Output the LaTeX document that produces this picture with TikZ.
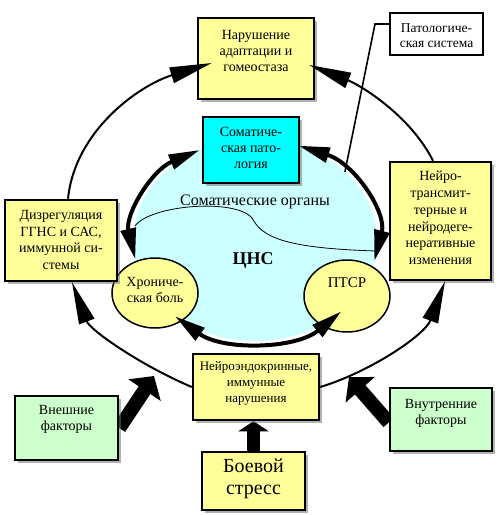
\documentclass[tikz,border=0pt]{standalone}
\usepackage{fontspec}
\setmainfont{Liberation Serif}
\usetikzlibrary{arrows.meta,shadows,shapes.geometric}
\definecolor{pyel}{RGB}{255,255,153}
\definecolor{pcyan}{RGB}{204,255,255}
\definecolor{bcyan}{RGB}{0,255,255}
\definecolor{pgreen}{RGB}{204,255,204}
\pgfdeclarelayer{bg}
\pgfsetlayers{bg,main}
\begin{document}
\begin{tikzpicture}[x=1pt,y=-1pt,
  box/.style={draw=black, line width=2.5pt, inner sep=0pt,
    drop shadow={shadow xshift=2.5pt, shadow yshift=-2.5pt, fill=black!55, opacity=.55}},
  ybox/.style={box, fill=pyel},
  gbox/.style={box, fill=pgreen},
  txt/.style={align=center, inner sep=0pt, font=\fontsize{14}{16}\selectfont},
  oarc/.style={line width=2pt, -{Triangle[length=42pt,width=16pt]}},
  iarc/.style={line width=4pt, {Triangle[length=31pt,width=15pt]}-{Triangle[length=31pt,width=15pt]}},
  fat/.style={line width=14pt, -{Triangle[length=17pt,width=38pt]}},
  smell/.style={ellipse, draw=black, line width=1.5pt, fill=pyel, inner sep=0pt},
]
\useasboundingbox (0,0) rectangle (498,515);

% inner ellipse (CNS)
\coordinate (cns) at (255,240);
\fill[pcyan] (cns) ellipse[x radius=122pt, y radius=101pt];
\node[inner sep=0pt, font=\fontsize{16}{18}\selectfont] (orglbl) at (255,202) {Соматические органы};
\node[inner sep=0pt, font=\fontsize{18}{20}\selectfont\bfseries] (cnslbl) at (253,260) {ЦНС};
\coordinate (cl) at (135,226);
\coordinate (cm) at (252,218);
\coordinate (cr) at (376,251);
\draw[line width=0.8pt] (cl) .. controls (150,205) and (235,198) .. (cm)
   .. controls (262,236) and (280,248) .. (cr);

% small ellipses
\node[smell, minimum width=86pt, minimum height=70pt] (hb) at (155,293) {};
\node[txt] (hbt) at (155,289.5) {Хрониче-\\ская боль};
\node[smell, minimum width=86pt, minimum height=72pt] (ptsr) at (347,296) {};
\node[txt, font=\fontsize{15}{17}\selectfont] (ptsrt) at (347,283) {ПТСР};

% inner thick arcs
\coordinate (la) at ({255+122*cos(117)},{240-101*sin(117)});
\coordinate (ra) at ({255+122*cos(69)},{240-101*sin(69)});
\coordinate (ba) at ({255+122*cos(-45)},{240-101*sin(-45)});
\draw[iarc] (la) arc[start angle=117, end angle=191, x radius=122pt, y radius=101pt];
\draw[iarc] (ra) arc[start angle=69, end angle=-12, x radius=122pt, y radius=101pt];
\draw[iarc] (ba) arc[start angle=-45, end angle=-131, x radius=122pt, y radius=101pt];

% somatic pathology box
\node[box, fill=bcyan, line width=2pt, minimum width=96pt, minimum height=66pt] (som) at (251,150) {};
\node[txt] (somt) at (251,148) {Соматиче-\\ская пато-\\логия};

% lower boxes
\node[gbox, minimum width=103pt, minimum height=64pt] (ext) at (66.5,428) {};
\node[gbox, minimum width=102pt, minimum height=63pt] (int) at (441,419.5) {};
\node[ybox, minimum width=103pt, minimum height=58pt] (bs) at (253.5,481) {};
\node[ybox, minimum width=126pt, minimum height=66pt] (ne) at (256,387) {};
\node[txt] (extt) at (66.5,419.5) {Внешние\\факторы};
\node[txt] (intt) at (441,413.5) {Внутренние\\факторы};
\node[txt, font=\fontsize{20}{22}\selectfont] (bst) at (253.5,479) {Боевой\\стресс};
\node[txt, font=\fontsize{13}{16}\selectfont] (net) at (256,383) {Нейроэндокринные,\\иммунные\\нарушения};

% fat arrows (behind the boxes)
\coordinate (ft1) at (154,376);
\coordinate (ft2) at (349,377);
\begin{pgfonlayer}{bg}
\draw[fat] (ext.east) -- (ft1);
\draw[fat] ([yshift=-3pt]int.west) -- (ft2);
\draw[line width=13pt, -{Triangle[length=10pt,width=30pt]}] (bs.north) -- (bs.north |- ne.south);
\end{pgfonlayer}

% other boxes
\node[ybox, minimum width=116pt, minimum height=81pt] (nar) at (256,58.5) {};
\node[txt] (nart) at (256,51) {Нарушение\\адаптации и\\гомеостаза};
\node[ybox, minimum width=112pt, minimum height=81pt] (diz) at (61,240.5) {};
\node[txt, font=\fontsize{14}{16.7}\selectfont] (dizt) at (61,240) {Дизрегуляция\\ГГНС и САС,\\иммунной си-\\стемы};
\node[ybox, minimum width=101pt, minimum height=118pt] (nt) at (440.5,221) {};
\node[txt, font=\fontsize{14}{16.8}\selectfont] (ntt) at (440.5,218) {Нейро-\\трансмит-\\терные и\\нейродеге-\\неративные\\изменения};
\node[draw=black, line width=2.5pt, fill=white, minimum width=93pt, minimum height=42pt, inner sep=0pt] (pat) at (436.5,34) {};
\node[txt, font=\fontsize{13.5}{15}\selectfont] (patt) at (436.5,35.5) {Патологиче-\\ская система};

% outer arcs
\draw[oarc] ([xshift=7pt]diz.north) .. controls (75,130) and (140,85) .. ([xshift=15pt,yshift=-4.5pt]nar.west);
\draw[oarc] ([xshift=-7.5pt]nt.north) .. controls (410,115) and (360,85) .. ([xshift=-6pt,yshift=-6.5pt]nar.east);
\draw[oarc] (ne.west) .. controls (140,365) and (90,330) .. ([xshift=11pt]diz.south);
\draw[oarc] (ne.east) .. controls (370,372) and (425,335) .. ([xshift=4.5pt]nt.south);

% pointer line
\coordinate (pk) at (375,24);
\coordinate (pe) at ({255+122*cos(42.5)},{240-101*sin(42.5)});
\draw[line width=1.6pt] ([yshift=10pt]pat.west) -- (pk) -- (pe);
\end{tikzpicture}
\end{document}
